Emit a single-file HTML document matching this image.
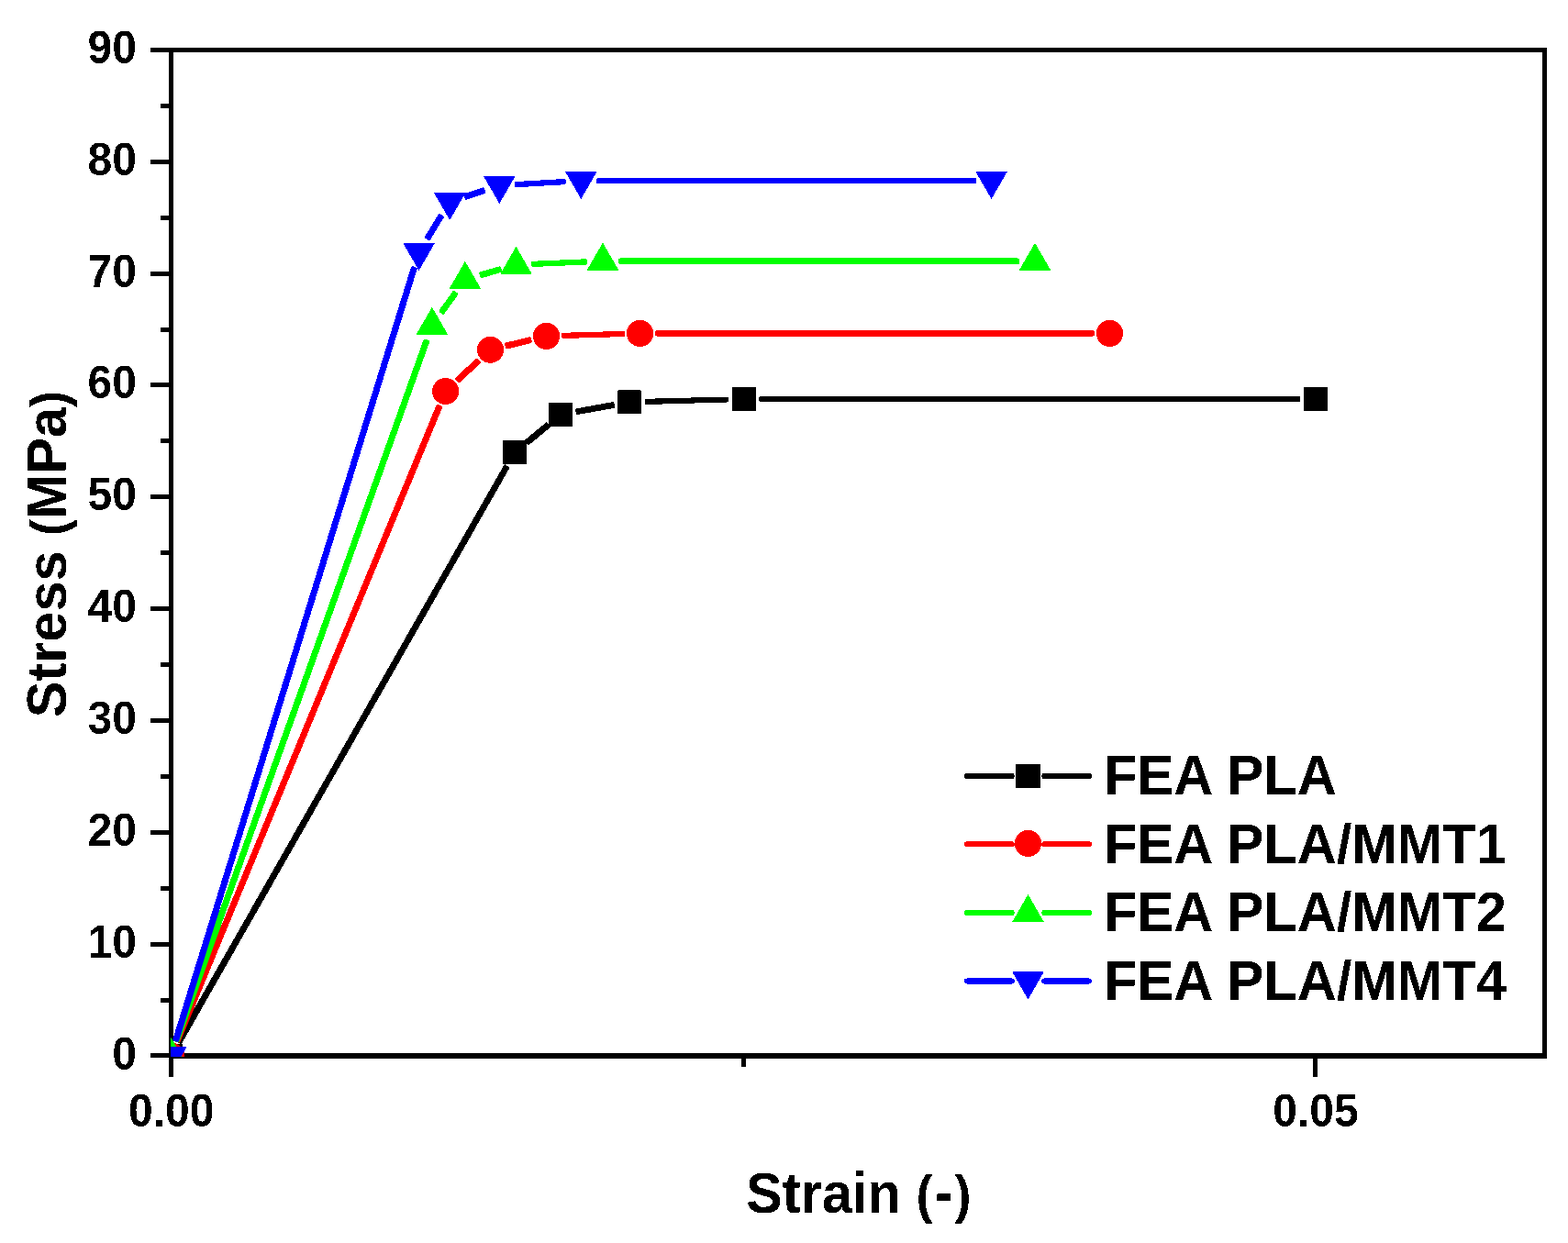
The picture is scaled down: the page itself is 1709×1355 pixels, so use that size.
<!DOCTYPE html>
<html><head><meta charset="utf-8"><title>Stress-Strain</title>
<style>
html,body{margin:0;padding:0;background:#fff;}
svg{display:block;}
text{font-family:"Liberation Sans",Arial,sans-serif;font-weight:bold;fill:#000;}
</style></head>
<body>
<svg width="1709" height="1355" viewBox="0 0 1709 1355">
<rect width="1709" height="1355" fill="#fff"/>
<defs>
<clipPath id="plotclip"><rect x="186" y="54.4" width="1497.5" height="1097.6"/></clipPath>
<filter id="crisp" filterUnits="userSpaceOnUse" x="0" y="0" width="1709" height="1355" color-interpolation-filters="sRGB"><feComponentTransfer><feFuncA type="discrete" tableValues="0 1"/></feComponentTransfer></filter>
</defs>
<g filter="url(#crisp)">
<g fill="#000" shape-rendering="crispEdges">
<rect x="184" y="52" width="5" height="1102"/>
<rect x="1681" y="52" width="5" height="1102"/>
<rect x="184" y="52" width="1502" height="5"/>
<rect x="184" y="1148" width="1502" height="6"/>
<rect x="164" y="1148.4" width="21" height="5"/>
<rect x="164" y="1026.6" width="21" height="5"/>
<rect x="164" y="904.7" width="21" height="5"/>
<rect x="164" y="782.9" width="21" height="5"/>
<rect x="164" y="661.1" width="21" height="5"/>
<rect x="164" y="539.2" width="21" height="5"/>
<rect x="164" y="417.4" width="21" height="5"/>
<rect x="164" y="295.6" width="21" height="5"/>
<rect x="164" y="173.7" width="21" height="5"/>
<rect x="164" y="51.9" width="21" height="5"/>
<rect x="175" y="1087.5" width="10" height="5"/>
<rect x="175" y="965.7" width="10" height="5"/>
<rect x="175" y="843.8" width="10" height="5"/>
<rect x="175" y="722.0" width="10" height="5"/>
<rect x="175" y="600.2" width="10" height="5"/>
<rect x="175" y="478.3" width="10" height="5"/>
<rect x="175" y="356.5" width="10" height="5"/>
<rect x="175" y="234.7" width="10" height="5"/>
<rect x="175" y="112.8" width="10" height="5"/>
<rect x="184" y="1153" width="5" height="21"/>
<rect x="1431" y="1153" width="5" height="21"/>
<rect x="808" y="1153" width="5" height="10"/>
</g>
<g font-size="48" text-anchor="end">
<text transform="translate(149,1165.67) scale(1,1.06)">0</text>
<text transform="translate(149,1043.80) scale(1,1.06)">10</text>
<text transform="translate(149,921.92) scale(1,1.06)">20</text>
<text transform="translate(149,800.05) scale(1,1.06)">30</text>
<text transform="translate(149,678.17) scale(1,1.06)">40</text>
<text transform="translate(149,556.30) scale(1,1.06)">50</text>
<text transform="translate(149,434.43) scale(1,1.06)">60</text>
<text transform="translate(149,312.55) scale(1,1.06)">70</text>
<text transform="translate(149,190.68) scale(1,1.06)">80</text>
<text transform="translate(149,68.80) scale(1,1.06)">90</text>
</g>
<g font-size="48" text-anchor="middle">
<text transform="translate(186.7,1227.5) scale(1,1.06)">0.00</text>
<text transform="translate(1434,1227.5) scale(1,1.06)">0.05</text>
</g>
<text font-size="59.6" text-anchor="middle" transform="translate(935.8,1322) scale(1,1.045)">Strain <tspan font-size="54.2">(</tspan><tspan dx="2.5">-</tspan><tspan font-size="54.2" dx="1.5">)</tspan></text>
<text font-size="59.4" text-anchor="middle" transform="translate(71.7,604.0) rotate(-90) scale(1,1.035)">Stress <tspan font-size="54.1">(</tspan>MPa<tspan font-size="54.1">)</tspan></text>
<g clip-path="url(#plotclip)">
<g fill="#000000"><rect x="0" y="-3.50" width="723.70" height="7.0" rx="1.6" transform="translate(194.62,1136.58) rotate(-60.336)"/><rect x="0" y="-3.50" width="31.79" height="7.0" rx="1.6" transform="translate(573.80,482.73) rotate(-39.569)"/><rect x="0" y="-3.50" width="42.92" height="7.0" rx="1.6" transform="translate(627.43,448.94) rotate(-10.254)"/><rect x="0" y="-3.10" width="91.74" height="6.2" rx="1.6" transform="translate(702.59,437.90) rotate(-1.536)"/><rect x="0" y="-3.10" width="589.90" height="6.2" rx="1.6" transform="translate(827.50,435.00) rotate(0.000)"/></g>
<rect x="173.50" y="1138.10" width="25.8" height="25.8" fill="#000000"/>
<rect x="548.10" y="480.40" width="25.8" height="25.8" fill="#000000"/>
<rect x="598.20" y="439.00" width="25.8" height="25.8" fill="#000000"/>
<rect x="673.10" y="425.45" width="25.8" height="25.8" fill="#000000"/>
<rect x="798.00" y="422.10" width="25.8" height="25.8" fill="#000000"/>
<rect x="1421.10" y="422.10" width="25.8" height="25.8" fill="#000000"/>
<g fill="#ff0000"><rect x="0" y="-3.50" width="750.65" height="7.0" rx="1.6" transform="translate(192.74,1135.66) rotate(-67.561)"/><rect x="0" y="-3.50" width="33.39" height="7.0" rx="1.6" transform="translate(497.79,415.23) rotate(-42.748)"/><rect x="0" y="-3.50" width="29.59" height="7.0" rx="1.6" transform="translate(550.63,377.36) rotate(-13.726)"/><rect x="0" y="-3.10" width="68.94" height="6.2" rx="1.6" transform="translate(612.09,365.91) rotate(-1.683)"/><rect x="0" y="-3.10" width="478.70" height="6.2" rx="1.6" transform="translate(714.20,363.40) rotate(0.000)"/></g>
<circle cx="186.40" cy="1151.00" r="14.6" fill="#ff0000"/>
<circle cx="485.60" cy="426.50" r="14.6" fill="#ff0000"/>
<circle cx="534.50" cy="381.30" r="14.6" fill="#ff0000"/>
<circle cx="595.50" cy="366.40" r="14.6" fill="#ff0000"/>
<circle cx="697.60" cy="363.40" r="14.6" fill="#ff0000"/>
<circle cx="1209.50" cy="363.40" r="14.6" fill="#ff0000"/>
<g fill="#00ff00"><rect x="0" y="-3.50" width="812.30" height="7.0" rx="1.6" transform="translate(191.99,1135.37) rotate(-70.337)"/><rect x="0" y="-3.50" width="28.41" height="7.0" rx="1.6" transform="translate(480.60,341.33) rotate(-54.246)"/><rect x="0" y="-3.50" width="24.68" height="7.0" rx="1.6" transform="translate(522.84,300.18) rotate(-16.149)"/><rect x="0" y="-3.10" width="61.39" height="6.2" rx="1.6" transform="translate(579.08,287.98) rotate(-2.484)"/><rect x="0" y="-3.10" width="437.80" height="6.2" rx="1.6" transform="translate(673.60,284.60) rotate(0.012)"/></g>
<polygon points="186.40,1131.00 203.70,1161.00 169.10,1161.00" fill="#00ff00"/>
<polygon points="470.90,334.80 488.20,364.80 453.60,364.80" fill="#00ff00"/>
<polygon points="506.90,284.80 524.20,314.80 489.60,314.80" fill="#00ff00"/>
<polygon points="562.50,268.70 579.80,298.70 545.20,298.70" fill="#00ff00"/>
<polygon points="657.00,264.60 674.30,294.60 639.70,294.60" fill="#00ff00"/>
<polygon points="1128.00,264.70 1145.30,294.70 1110.70,294.70" fill="#00ff00"/>
<g fill="#0000ff"><rect x="0" y="-3.50" width="883.52" height="7.0" rx="1.6" transform="translate(191.29,1135.14) rotate(-72.858)"/><rect x="0" y="-3.50" width="31.25" height="7.0" rx="1.6" transform="translate(465.25,260.83) rotate(-58.579)"/><rect x="0" y="-3.50" width="23.78" height="7.0" rx="1.6" transform="translate(505.96,214.79) rotate(-18.308)"/><rect x="0" y="-3.10" width="55.95" height="6.2" rx="1.6" transform="translate(560.87,201.15) rotate(-3.280)"/><rect x="0" y="-3.10" width="414.10" height="6.2" rx="1.6" transform="translate(649.90,197.00) rotate(-0.013)"/></g>
<polygon points="186.40,1171.00 203.70,1141.00 169.10,1141.00" fill="#0000ff"/>
<polygon points="456.60,295.00 473.90,265.00 439.30,265.00" fill="#0000ff"/>
<polygon points="490.20,240.00 507.50,210.00 472.90,210.00" fill="#0000ff"/>
<polygon points="544.30,222.10 561.60,192.10 527.00,192.10" fill="#0000ff"/>
<polygon points="633.30,217.00 650.60,187.00 616.00,187.00" fill="#0000ff"/>
<polygon points="1080.60,216.90 1097.90,186.90 1063.30,186.90" fill="#0000ff"/>
</g>
<rect x="1051" y="842.90" width="54.6" height="6" rx="2.6" fill="#000000"/>
<rect x="1135.4" y="842.90" width="54.6" height="6" rx="2.6" fill="#000000"/>
<rect x="1106.95" y="833.00" width="27.1" height="25.8" fill="#000000"/>
<text font-size="59.6" word-spacing="1" transform="translate(1203,866.0) scale(1,1.024)">FEA PLA</text>
<rect x="1051" y="917.30" width="54.6" height="6" rx="2.6" fill="#ff0000"/>
<rect x="1135.4" y="917.30" width="54.6" height="6" rx="2.6" fill="#ff0000"/>
<circle cx="1120.40" cy="919.40" r="14.6" fill="#ff0000"/>
<text font-size="59.6" word-spacing="1" transform="translate(1203,941.4) scale(1,1.024)">FEA PLA/MMT1</text>
<rect x="1051" y="991.90" width="54.6" height="6" rx="2.6" fill="#00ff00"/>
<rect x="1135.4" y="991.90" width="54.6" height="6" rx="2.6" fill="#00ff00"/>
<polygon points="1120.50,974.90 1137.80,1004.90 1103.20,1004.90" fill="#00ff00"/>
<text font-size="59.6" word-spacing="1" transform="translate(1203,1015.0) scale(1,1.024)">FEA PLA/MMT2</text>
<rect x="1051" y="1066.40" width="54.6" height="6" rx="2.6" fill="#0000ff"/>
<rect x="1135.4" y="1066.40" width="54.6" height="6" rx="2.6" fill="#0000ff"/>
<polygon points="1120.50,1089.40 1137.80,1059.40 1103.20,1059.40" fill="#0000ff"/>
<text font-size="59.6" word-spacing="1" transform="translate(1203,1089.5) scale(1,1.024)">FEA PLA/MMT4</text>
</g>
</svg>
</body></html>
